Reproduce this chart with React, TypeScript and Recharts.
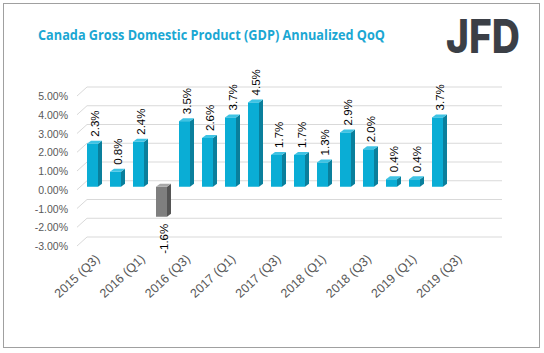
import React from 'react'
import { BarChart, Bar, XAxis, YAxis, CartesianGrid } from 'recharts'

const quarters = [
  '2015 (Q3)', '2015 (Q4)', '2016 (Q1)', '2016 (Q2)', '2016 (Q3)', '2016 (Q4)',
  '2017 (Q1)', '2017 (Q2)', '2017 (Q3)', '2017 (Q4)', '2018 (Q1)', '2018 (Q2)',
  '2018 (Q3)', '2018 (Q4)', '2019 (Q1)', '2019 (Q2)', '2019 (Q3)', '2019 (Q4)'
]
const gdpQoQ = [2.3, 0.8, 2.4, -1.6, 3.5, 2.6, 3.7, 4.5, 1.7, 1.7, 1.3, 2.9, 2.0, 0.4, 0.4, 3.7, null, null]
const yTicks = [-3, -2, -1, 0, 1, 2, 3, 4, 5]

const data = quarters.map((q, i) => ({ quarter: q, value: gdpQoQ[i] }))

const DX = 4
const DY = 3

// fake 3d column like the excel original
const Column3D = (props: any) => {
  const { x, y, width, height, value } = props
  if (value == null) return null
  const top = Math.min(y, y + height)
  const h = Math.abs(height)
  const neg = value < 0
  const front = neg ? '#7f7f7f' : '#0aadd5'
  const side = neg ? '#555555' : '#0a7f9c'
  const lid = neg ? '#a8a8a8' : '#3ec3e4'
  const cx = x + width / 2 + 2
  const label = `${value.toFixed(1)}%`
  return (
    <g>
      <rect x={x} y={top} width={width} height={h} fill={front} />
      <polygon
        points={`${x + width},${top} ${x + width + DX},${top - DY} ${x + width + DX},${top + h - DY} ${x + width},${top + h}`}
        fill={side}
      />
      <polygon
        points={`${x},${top} ${x + DX},${top - DY} ${x + width + DX},${top - DY} ${x + width},${top}`}
        fill={lid}
      />
      {neg ? (
        <text
          x={cx}
          y={top + h + 7}
          transform={`rotate(-90, ${cx}, ${top + h + 7})`}
          textAnchor="end"
          dominantBaseline="central"
          fontSize={11.5}
          fill="#000"
          fontFamily="Liberation Sans, Arial, sans-serif"
        >
          {label}
        </text>
      ) : (
        <text
          x={cx}
          y={top - 7}
          transform={`rotate(-90, ${cx}, ${top - 7})`}
          textAnchor="start"
          dominantBaseline="central"
          fontSize={11.5}
          fill="#000"
          fontFamily="Liberation Sans, Arial, sans-serif"
        >
          {label}
        </text>
      )}
    </g>
  )
}

const GridLine = (p: any) => (
  <g key={p.key}>
    <line x1={p.x1 - 4} y1={p.y1 + 3} x2={p.x1 + 6} y2={p.y1 - 6} stroke="#d9d9d9" />
    <line x1={p.x1 + 6} y1={p.y1 - 6} x2={p.x2 + 7} y2={p.y1 - 6} stroke="#d9d9d9" />
  </g>
)

const YTick = (p: any) => (
  <text
    x={p.x}
    y={p.y + 3}
    textAnchor="end"
    dominantBaseline="central"
    fontSize={10.5}
    fill="#595959"
    fontFamily="Liberation Sans, Arial, sans-serif"
  >
    {`${Number(p.payload.value).toFixed(2)}%`}
  </text>
)

const XTick = (p: any) => {
  const tx = p.x + 8 - p.index * 0.75
  const ty = p.y + 9
  return (
    <text
      x={tx}
      y={ty}
      transform={`rotate(-43, ${tx}, ${ty})`}
      textAnchor="end"
      fontSize={12.5}
      fill="#595959"
      fontFamily="Liberation Sans, Arial, sans-serif"
    >
      {p.payload.value}
    </text>
  )
}

export default function App() {
  return (
    <div style={{ position: 'fixed', left: 0, top: 0, width: 544, height: 353, background: '#fff' }}>
      <div
        style={{
          position: 'absolute', left: 3, top: 3, width: 535, height: 343,
          border: '1px solid #a0a0a0'
        }}
      />
      <svg width={544} height={70} style={{ position: 'absolute', left: 0, top: 0 }}>
        <text
          x={38}
          y={40}
          fontSize={15}
          fontWeight={700}
          fill="#1ba7d3"
          fontFamily="Open Sans, sans-serif"
          textLength={347}
          lengthAdjust="spacingAndGlyphs"
        >
          Canada Gross Domestic Product (GDP) Annualized QoQ
        </text>
        <text
          x={446}
          y={53}
          fontSize={46}
          fontWeight={800}
          fill="#3b3f46"
          fontFamily="Inter, DejaVu Sans, sans-serif"
          textLength={74}
          lengthAdjust="spacingAndGlyphs"
        >
          JFD
        </text>
      </svg>
      <div style={{ position: 'absolute', left: 0, top: 0 }}>
        <BarChart
          width={544}
          height={353}
          data={data}
          margin={{ top: 93, right: 49, bottom: 50, left: 10 }}
        >
          <CartesianGrid vertical={false} horizontal={GridLine} />
          <XAxis
            dataKey="quarter"
            interval={1}
            axisLine={false}
            tickLine={false}
            height={60}
            tick={XTick}
          />
          <YAxis
            domain={[-3, 5]}
            ticks={yTicks}
            interval={0}
            width={71}
            axisLine={false}
            tickLine={false}
            tickSize={0}
            tickMargin={13}
            tick={YTick}
          />
          <Bar dataKey="value" barSize={11} shape={Column3D} isAnimationActive={false} />
        </BarChart>
      </div>
    </div>
  )
}
